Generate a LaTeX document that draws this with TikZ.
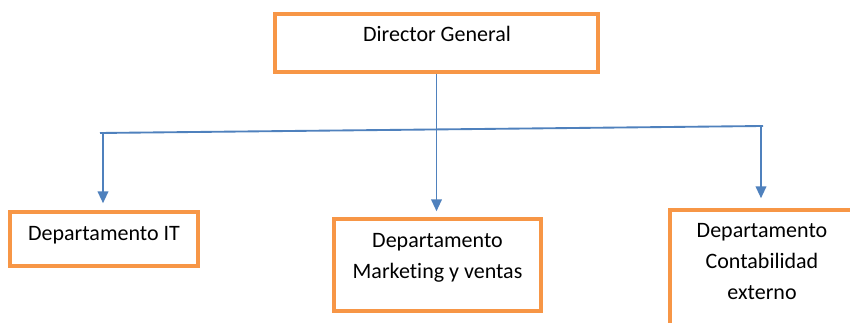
\documentclass[tikz,border=0pt]{standalone}
\usepackage{fontspec}
\setmainfont{Carlito}[Ligatures = NoCommon]
\usepackage{xcolor}
\usetikzlibrary{arrows.meta,positioning}
\definecolor{boxorange}{HTML}{F79646}
\definecolor{lineblue}{HTML}{4F81BD}

\begin{document}
\begin{tikzpicture}[x = 0.75pt, y = -0.75pt,
		box_node/.style = {rectangle, draw = boxorange, line width = 2.6pt, fill = white, inner sep = 0pt},
		text_node/.style = {inner sep = 0pt, align = center, anchor = base, font = \fontsize{16.5}{23.5}\selectfont},
		link/.style = {draw = lineblue, line width = 1.4pt},
		arrow/.style = {link, -{Triangle[length = 9pt, width = 8pt]}},
		]
		\clip (0,0) rectangle (850,323);
		\fill[white] (0,0) rectangle (850,323);
		
		%boxes
		\node[box_node, minimum width = 242.25pt, minimum height = 43.5pt](dg) at (436.5,43){};
		\node[box_node, minimum width = 141pt, minimum height = 40.5pt](it) at (104,239){};
		\node[box_node, minimum width = 155.25pt, minimum height = 69pt](mk) at (437.5,265){};
		\node[box_node, minimum width = 150pt, minimum height = 105pt](ct) at (770,280){};
		
		%texts (base = last line)
		\node[text_node](dgt) at (437,41.7){Director General};
		\node[text_node](itt) at (104,240.7){Departamento IT};
		\node[text_node](mkt) at (437.5,279){Departamento\\Marketing y ventas};
		\node[text_node](ctt) at (762,300){Departamento\\Contabilidad\\externo};
		
		%links
		\coordinate (hl) at (100,133);
		\coordinate (hr) at (763,126);
		\coordinate (jl) at (103,133);
		\coordinate (jr) at (761,126);
		\draw[link](hl) -- (hr);
		\draw[arrow, shorten > = 4.5pt](dg.south) -- (dg.south |- mk.north);
		\draw[arrow, shorten > = 5.25pt](jl) -- (jl |- it.north);
		\draw[arrow, shorten > = 7.5pt](jr) -- (jr |- ct.north);

\end{tikzpicture}
\end{document}
